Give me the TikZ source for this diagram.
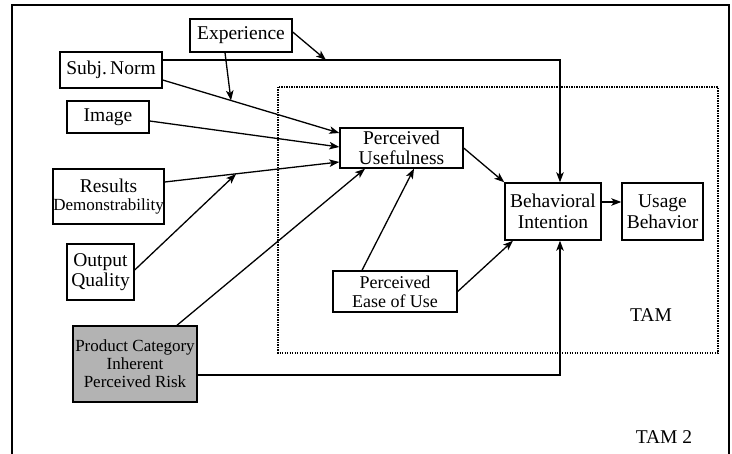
\documentclass[tikz,border=0pt]{standalone}
\usepackage{fontspec}
\setmainfont{Liberation Serif}
\usetikzlibrary{arrows.meta}
\begin{document}
\begin{tikzpicture}[x=1pt,y=-1pt,
  box/.style={draw, line width=1.4pt, inner sep=0pt, align=center, font=\fontsize{19.5}{20.5}\selectfont},
  arr/.style={line width=1.3pt, -{Stealth[length=10pt,width=7.5pt,inset=2.5pt]}},
  ln/.style={line width=1.3pt}]
\useasboundingbox (0,0) rectangle (732,454);
% outer frame
\draw[line width=1.2pt] (12,454) -- (12,5) -- (729,5) -- (729,454);
% TAM region
\draw[line width=1.5pt, dash pattern=on 1.3pt off 1.2pt] (278,87) rectangle (718,353);
\node[font=\fontsize{19.5}{20}\selectfont] (tam) at (651,315) {TAM};
\node[font=\fontsize{19.5}{20}\selectfont] (tam2) at (664,437) {TAM 2};
% boxes
\node[box, minimum width=102pt, minimum height=33pt] (exp) at (241,35.5) {Experience};
\node[box, minimum width=102pt, minimum height=36pt] (sn) at (111,70) {Subj.\,Norm};
\node[box, minimum width=82pt, minimum height=32pt] (img) at (108,117) {Image};
\node[box, minimum width=111pt, minimum height=55pt] (rd) at (108.5,196.5) {Results\\[-3pt]{\fontsize{17}{18}\selectfont Demonstrability}};
\node[box, minimum width=67pt, minimum height=56pt] (oq) at (100.5,272) {Output\\Quality};
\node[box, fill={rgb,255:red,179;green,179;blue,179}, minimum width=124pt, minimum height=76pt, font=\fontsize{17}{18}\selectfont] (pc) at (135,364) {Product Category\\Inherent\\Perceived Risk};
\node[box, minimum width=123pt, minimum height=40pt] (pu) at (401.5,148) {Perceived\\Usefulness};
\node[box, minimum width=96pt, minimum height=57pt] (bi) at (553,211.5) {Behavioral\\Intention};
\node[box, minimum width=81pt, minimum height=57pt] (ub) at (662.5,211.5) {Usage\\Behavior};
\node[box, minimum width=124pt, minimum height=41pt, font=\fontsize{18}{19}\selectfont] (peou) at (395,291.5) {Perceived\\Ease of Use};
% helper coordinates on lines
\coordinate (e1) at (326,60);
\coordinate (e2) at (231,100.5);
\coordinate (e3) at (236,174);
% connectors
\draw[arr] (sn.east |- 0,60) -| (bi.north -| 560,0);
\draw[arr] (exp.east |- 0,32) -- (e1);
\draw[arr] (exp.south -| 225,0) -- (e2);
\draw[arr] (sn.east |- 0,80) -- (pu.west |- 0,133);
\draw[arr] (img.east |- 0,121) -- (pu.west |- 0,147);
\draw[arr] (rd.east |- 0,182) -- (pu.west |- 0,162);
\draw[arr] (oq.east |- 0,270) -- (e3);
\draw[arr] (pc.north -| 177,0) -- (pu.south -| 365,0);
\draw[arr] (pc.east |- 0,375) -| (bi.south -| 560,0);
\draw[arr] (peou.north -| 362,0) -- (pu.south -| 414,0);
\draw[arr] (peou.east) -- (bi.south -| 513,0);
\draw[arr] (pu.east) -- (bi.north west);
\draw[arr] (bi.east |- 0,202) -- (ub.west |- 0,202);
\end{tikzpicture}
\end{document}
